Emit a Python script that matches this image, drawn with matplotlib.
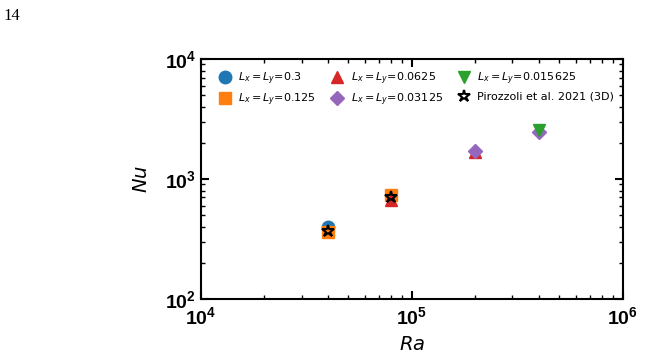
import numpy as np
import matplotlib
matplotlib.use("Agg")
import matplotlib.pyplot as plt
from matplotlib.ticker import LogLocator, NullFormatter

# data
ra_03 = [4e4]
nu_03 = [398]
ra_0125 = [4e4, 8e4]
nu_0125 = [361, 729]
ra_00625 = [8e4, 2e5]
nu_00625 = [668, 1680]
ra_003125 = [2e5, 4e5]
nu_003125 = [1722, 2465]
ra_0015625 = [4e5]
nu_0015625 = [2560]
ra_piro = [4e4, 8e4]
nu_piro = [369, 710]

fig = plt.figure(figsize=(6.46, 3.64), dpi=100)
ax = fig.add_axes([0.311, 0.179, 0.653, 0.659])

ms = 9
ax.plot(ra_03, nu_03, 'o', color='C0', ms=ms, label=r'$L_x=L_y$=0.3')
ax.plot(ra_0125, nu_0125, 's', color='C1', ms=ms, label=r'$L_x=L_y$=0.125')
ax.plot(ra_00625, nu_00625, '^', color='C3', ms=ms, label=r'$L_x=L_y$=0.0625')
ax.plot(ra_003125, nu_003125, 'D', color='C4', ms=7.5, label=r'$L_x=L_y$=0.03125')
ax.plot(ra_0015625, nu_0015625, 'v', color='C2', ms=ms, label=r'$L_x=L_y$=0.015625')
ax.plot(ra_piro, nu_piro, '*', mfc='none', mec='k', mew=1.5, ms=9,
        label='Pirozzoli et al. 2021 (3D)')

ax.set_xscale('log')
ax.set_yscale('log')
ax.set_xlim(1e4, 1e6)
ax.set_ylim(1e2, 1e4)

for s in ax.spines.values():
    s.set_linewidth(1.5)
ax.tick_params(which='both', direction='in', top=True, right=True)
ax.tick_params(which='major', length=6, width=1.5, labelsize=14)
ax.tick_params(which='minor', length=3, width=1.0)
ax.tick_params(axis='x', which='major', pad=5)
ax.xaxis.set_minor_locator(LogLocator(base=10, subs=np.arange(2, 10)))
ax.yaxis.set_minor_locator(LogLocator(base=10, subs=np.arange(2, 10)))
ax.xaxis.set_minor_formatter(NullFormatter())
ax.yaxis.set_minor_formatter(NullFormatter())
for lab in ax.get_xticklabels() + ax.get_yticklabels():
    lab.set_fontweight('bold')
    lab.set_fontfamily('Liberation Sans')

ax.set_xlabel(r'$Ra$', fontsize=14, labelpad=5)
ax.set_ylabel(r'$Nu$', fontsize=14, labelpad=10)

ax.legend(ncol=3, loc='upper left', frameon=False, fontsize=8,
          handletextpad=0.3, columnspacing=1.0, borderaxespad=0.3,
          labelspacing=0.45, handlelength=1.8, bbox_to_anchor=(0.015, 0.985))

fig.text(0.006, 0.955, '14', family='Liberation Serif', fontsize=12, va='center')

fig.savefig('out.png', dpi=100)
